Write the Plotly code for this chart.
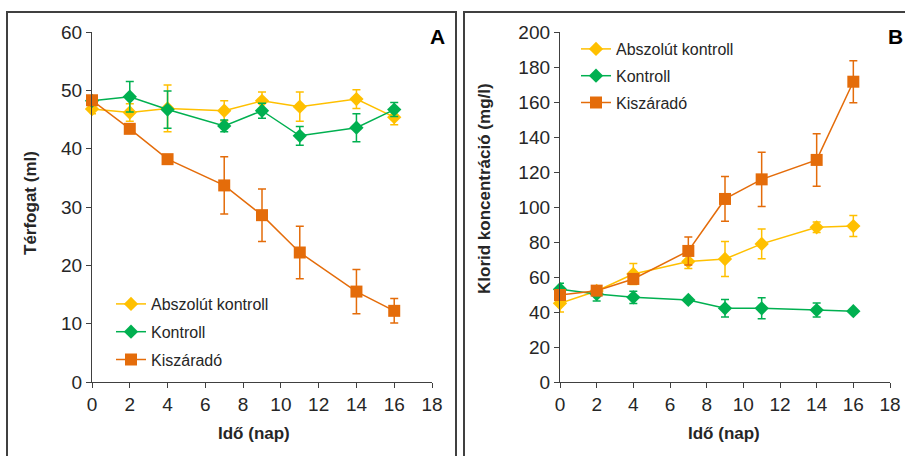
import plotly.graph_objects as go

W, H = 905, 456

days = [0, 2, 4, 7, 9, 11, 14, 16]
series_names = ["Abszolút kontroll", "Kontroll", "Kiszáradó"]

# Panel A: Térfogat (ml)
abs_vol = [46.8, 46.2, 46.9, 46.5, 48.2, 47.2, 48.5, 45.4]
abs_vol_err = [0.8, 1.5, 4.0, 1.7, 1.5, 2.5, 1.6, 1.3]
kon_vol = [48.2, 48.9, 46.7, 43.9, 46.5, 42.2, 43.6, 46.7]
kon_vol_err = [0.5, 2.6, 3.2, 1.0, 1.3, 1.6, 2.4, 1.2]
kis_vol = [48.3, 43.4, 38.2, 33.7, 28.6, 22.2, 15.5, 12.2]
kis_vol_err = [0.6, 0.6, 0.6, 4.9, 4.5, 4.5, 3.8, 2.1]

# Panel B: Klorid koncentráció (mg/l)
abs_cl = [45.0, 52.0, 61.7, 68.8, 70.3, 78.9, 88.4, 89.1]
abs_cl_err = [5.0, 2.0, 6.0, 4.0, 10.0, 8.5, 3.0, 6.0]
kon_cl = [53.0, 50.3, 48.4, 46.9, 42.1, 42.1, 41.1, 40.5]
kon_cl_err = [3.5, 4.0, 3.5, 1.0, 5.0, 6.0, 4.0, 1.0]
kis_cl = [49.7, 52.2, 58.9, 74.9, 104.6, 115.8, 126.9, 171.6]
kis_cl_err = [3.0, 2.0, 3.0, 8.0, 12.8, 15.5, 15.0, 12.0]

colors = ["#FFC000", "#00B050", "#E46C0A"]
symbols = ["diamond", "diamond", "square"]
msizes = [11, 11, 12]

FONT = "Arial, Liberation Sans, sans-serif"
TXT = "#262626"
AX = "#404040"


def px(x):
    return x / W


def py(y):
    return 1 - y / H


fig = go.Figure()

panelA = [(abs_vol, abs_vol_err), (kon_vol, kon_vol_err), (kis_vol, kis_vol_err)]
panelB = [(abs_cl, abs_cl_err), (kon_cl, kon_cl_err), (kis_cl, kis_cl_err)]

for i, (vals, errs) in enumerate(panelA):
    fig.add_trace(go.Scatter(
        x=days, y=vals, name=series_names[i], mode="lines+markers",
        line=dict(color=colors[i], width=1.5),
        marker=dict(symbol=symbols[i], size=msizes[i], color=colors[i]),
        error_y=dict(type="data", array=errs, color=colors[i], thickness=1.5, width=4),
        xaxis="x", yaxis="y", legend="legend", legendgroup="a%d" % i,
        cliponaxis=False,
    ))
for i, (vals, errs) in enumerate(panelB):
    fig.add_trace(go.Scatter(
        x=days, y=vals, name=series_names[i], mode="lines+markers",
        line=dict(color=colors[i], width=1.5),
        marker=dict(symbol=symbols[i], size=msizes[i], color=colors[i]),
        error_y=dict(type="data", array=errs, color=colors[i], thickness=1.5, width=4),
        xaxis="x2", yaxis="y2", legend="legend2", legendgroup="b%d" % i,
        cliponaxis=False,
    ))

axis_common = dict(
    showline=True, linecolor=AX, linewidth=1.3, ticks="outside", ticklen=5,
    tickcolor=AX, tickwidth=1.3, showgrid=False, zeroline=False, automargin=False,
    tickfont=dict(family=FONT, size=19, color=TXT), fixedrange=True,
)

fig.update_layout(
    width=W, height=H,
    margin=dict(l=0, r=0, t=0, b=0, autoexpand=False),
    paper_bgcolor="white", plot_bgcolor="white",
    font=dict(family=FONT, color=TXT),
    xaxis=dict(domain=[px(92), px(432)], range=[0, 18], dtick=2, anchor="y", **axis_common),
    yaxis=dict(domain=[py(382), py(32)], range=[0, 60], dtick=10, anchor="x", **axis_common),
    xaxis2=dict(domain=[px(560), px(890)], range=[0, 18], dtick=2, anchor="y2", **axis_common),
    yaxis2=dict(domain=[py(382), py(32)], range=[0, 200], dtick=20, anchor="x2", **axis_common),
    legend=dict(x=px(111), y=py(287), xanchor="left", yanchor="top",
                font=dict(family=FONT, size=16, color=TXT), bgcolor="rgba(0,0,0,0)",
                tracegroupgap=4, itemwidth=30),
    legend2=dict(x=px(576), y=py(32), xanchor="left", yanchor="top",
                 font=dict(family=FONT, size=16, color=TXT), bgcolor="rgba(0,0,0,0)",
                 tracegroupgap=3, itemwidth=30),
    shapes=[
        dict(type="rect", xref="paper", yref="paper", x0=px(7), x1=px(456), y0=py(470), y1=py(12),
             line=dict(color=AX, width=2)),
        dict(type="rect", xref="paper", yref="paper", x0=px(464), x1=px(920), y0=py(470), y1=py(12),
             line=dict(color=AX, width=2)),
    ],
)

ann_common = dict(xref="paper", yref="paper", showarrow=False, xanchor="center", yanchor="middle")
fig.add_annotation(text="<b>A</b>", x=px(437), y=py(36), font=dict(family=FONT, size=21, color="#000000"), **ann_common)
fig.add_annotation(text="<b>B</b>", x=px(895), y=py(36), font=dict(family=FONT, size=21, color="#000000"), **ann_common)
fig.add_annotation(text="<b>Idő (nap)</b>", x=px(254), y=py(433), font=dict(family=FONT, size=17, color=TXT), **ann_common)
fig.add_annotation(text="<b>Idő (nap)</b>", x=px(724), y=py(433), font=dict(family=FONT, size=17, color=TXT), **ann_common)
fig.add_annotation(text="<b>Térfogat (ml)</b>", x=px(30), y=py(203), textangle=-90,
                   font=dict(family=FONT, size=17, color=TXT), **ann_common)
fig.add_annotation(text="<b>Klorid koncentráció (mg/l)</b>", x=px(485), y=py(188), textangle=-90,
                   font=dict(family=FONT, size=17, color=TXT), **ann_common)

fig.write_html("out.html")
